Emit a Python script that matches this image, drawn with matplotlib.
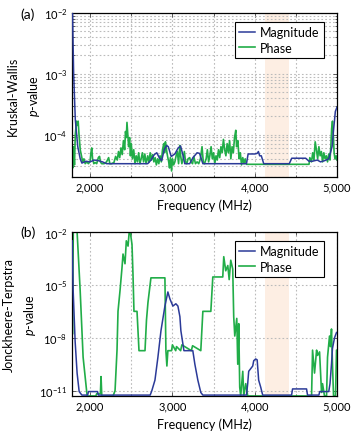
import numpy as np
import matplotlib
matplotlib.use("Agg")
import matplotlib.pyplot as plt
from matplotlib.ticker import FixedLocator, FuncFormatter, LogLocator, NullLocator, NullFormatter

plt.rcParams['font.family'] = ['Lato', 'DejaVu Sans']
plt.rcParams['mathtext.fontset'] = 'custom'
plt.rcParams['mathtext.rm'] = 'Lato'
plt.rcParams['mathtext.it'] = 'Lato:italic'

# ---------------- data (frequency in MHz, log10 of p-value) ----------------
# Panel (a): Kruskal-Wallis
kw_mag_freq = [1785, 1800, 1820, 1850, 1880, 1900, 1950, 2000, 2050, 2100, 2150, 2200,
               2700, 2740, 2780, 2810, 2840, 2870, 2900, 2930, 2950, 2985, 3030, 3070,
               3100, 3130, 3150, 3210, 3250, 3300, 3330, 3370, 3900, 3920, 4000, 4030,
               4045, 4060, 4080, 4110, 4420, 4450, 4620, 4660, 4700, 4760, 4800, 4850,
               4900, 4940, 4960, 4980, 5000]
kw_mag_log = [-1.9, -3.0, -3.75, -4.2, -4.4, -4.47, -4.44, -4.45, -4.42, -4.43, -4.45, -4.48,
              -4.48, -4.42, -4.33, -4.30, -4.38, -4.43, -4.25, -4.18, -4.20, -4.36, -4.32, -4.22,
              -4.19, -4.35, -4.48, -4.48, -4.38, -4.30, -4.31, -4.48, -4.48, -4.32, -4.32, -4.31,
              -4.28, -4.35, -4.35, -4.48, -4.48, -4.39, -4.39, -4.44, -4.44, -4.42, -4.45, -4.43,
              -4.40, -4.20, -3.90, -3.62, -3.55]

kw_ph_freq = [1780, 1790, 1800, 1810, 1820, 1835, 1845, 1855, 1865, 1880, 1895, 1910, 1925,
              1940, 1960, 1980, 2000, 2010, 2020, 2030, 2045, 2060, 2080, 2100, 2115, 2125,
              2140, 2170, 2200, 2225, 2240, 2260, 2290, 2310, 2330, 2345, 2360, 2375, 2390,
              2405, 2420, 2430, 2440, 2448, 2458, 2468, 2480, 2490, 2500, 2515, 2530, 2545,
              2560, 2575, 2590, 2605, 2620, 2635, 2650, 2665, 2680, 2700, 2715, 2730, 2745,
              2760, 2775, 2790, 2805, 2820, 2835, 2850, 2865, 2880, 2895, 2905, 2915, 2925,
              2940, 2955, 2965, 2975, 2990, 3000, 3015, 3030, 3045, 3060, 3075, 3090, 3100,
              3115, 3130, 3145, 3160, 3175, 3190, 3210, 3225, 3245, 3260, 3280, 3300, 3320,
              3340, 3360, 3375, 3390, 3410, 3425, 3440, 3455, 3470, 3485, 3500, 3515, 3530,
              3545, 3560, 3575, 3590, 3605, 3620, 3635, 3650, 3665, 3680, 3695, 3710, 3725,
              3740, 3755, 3770, 3780, 3795, 3810, 3825, 3840, 3855, 3870, 3885, 3900, 4660,
              4670, 4690, 4705, 4720, 4735, 4750, 4765, 4780, 4795, 4810, 4825, 4840, 4855,
              4870, 4885, 4900, 4915, 4925, 4935, 4945, 4955, 4965, 4975, 4990, 5000]
kw_ph_log = [-4.3, -4.55, -4.2, -4.5, -4.0, -3.78, -3.85, -3.78, -4.0, -4.25, -4.35, -4.45, -4.4,
             -4.48, -4.45, -4.48, -4.44, -4.30, -4.22, -4.40, -4.48, -4.46, -4.48, -4.38, -4.36, -4.45,
             -4.48, -4.48, -4.45, -4.38, -4.48, -4.48, -4.46, -4.36, -4.42, -4.28, -4.38, -4.22, -4.33,
             -4.10, -4.25, -3.95, -4.05, -3.80, -4.00, -4.20, -4.05, -4.35, -4.15, -4.40, -4.25, -4.48,
             -4.35, -4.45, -4.30, -4.48, -4.40, -4.30, -4.45, -4.32, -4.48, -4.35, -4.46, -4.30, -4.42,
             -4.33, -4.45, -4.38, -4.50, -4.40, -4.48, -4.35, -4.45, -4.25, -4.15, -4.30, -4.12, -4.22,
             -4.35, -4.45, -4.55, -4.38, -4.60, -4.40, -4.50, -4.45, -4.35, -4.28, -4.48, -4.18, -4.35,
             -4.48, -4.40, -4.28, -4.45, -4.48, -4.40, -4.38, -4.45, -4.48, -4.36, -4.48, -4.45, -4.48,
             -4.40, -4.20, -4.45, -4.48, -4.40, -4.25, -4.45, -4.35, -4.20, -4.40, -4.30, -4.48, -4.35,
             -4.42, -4.25, -4.38, -4.20, -4.30, -4.08, -4.25, -4.35, -4.15, -4.30, -4.10, -4.40, -4.20,
             -4.30, -4.05, -3.93, -4.20, -4.10, -4.40, -4.30, -4.50, -4.38, -4.48, -4.40, -4.49, -4.49,
             -4.38, -4.45, -4.30, -4.42, -4.12, -4.25, -4.40, -4.20, -4.35, -4.28, -4.45, -4.30, -4.40,
             -4.35, -4.45, -4.32, -4.42, -4.20, -3.90, -3.78, -4.00, -4.30, -4.40, -4.35, -4.42]

# Panel (b): Jonckheere-Terpstra
jt_mag_freq = [1782, 1794, 1818, 1842, 1867, 1900, 1970, 1980, 2090, 2100, 2730, 2750, 2788,
               2824, 2861, 2909, 2945, 2970, 3006, 3042, 3067, 3091, 3103, 3140, 3248, 3273,
               3309, 3345, 3370, 3900, 3915, 3927, 3976, 3988, 4012, 4030, 4048, 4073, 4097,
               4448, 4460, 4630, 4642, 4780, 4790, 4900, 4915, 4933, 4945, 4970, 4994]
jt_mag_log = [-2.5, -5.3, -8.2, -10.0, -11.05, -11.25, -11.25, -11.05, -11.05, -11.25, -11.25, -11.0, -10.4,
              -9.1, -7.6, -6.2, -5.4, -5.8, -6.2, -6.07, -6.2, -6.8, -7.6, -8.73, -8.73, -9.5,
              -10.4, -11.1, -11.25, -11.25, -10.6, -9.9, -9.6, -9.3, -9.2, -9.25, -10.4, -10.8, -11.25,
              -11.25, -10.9, -10.9, -11.25, -11.25, -11.05, -11.05, -10.6, -9.5, -8.6, -8.0, -7.7]

jt_ph_freq = [1780, 1785, 1796, 1842, 1879, 1915, 1964, 2070, 2080, 2125, 2133, 2142, 2279,
              2303, 2327, 2339, 2364, 2388, 2400, 2424, 2440, 2461, 2475, 2485, 2497, 2509,
              2521, 2533, 2570, 2594, 2667, 2685, 2703, 2739, 2909, 2921, 2933, 2945, 2990,
              3000, 3040, 3050, 3100, 3115, 3230, 3245, 3345, 3370, 3467, 3491, 3612, 3624,
              3648, 3673, 3690, 3709, 3733, 3745, 3758, 3782, 3794, 3806, 3818, 3830, 3855,
              3867, 3891, 3915, 4691, 4703, 4727, 4752, 4764, 4788, 4812, 4824, 4848, 4873,
              4885, 4909, 4921, 4933, 4945, 4958, 4982, 4994, 5000]
jt_ph_log = [-1.8, -7.8, -1.8, -2.0, -5.3, -9.1, -11.3, -11.3, -11.17, -11.17, -10.2, -11.3, -11.3,
             -11.0, -8.7, -6.5, -5.3, -4.0, -3.25, -3.8, -2.5, -2.8, -2.0, -1.9, -2.3, -2.7,
             -4.4, -6.5, -6.5, -8.73, -8.73, -7.0, -6.0, -4.6, -4.6, -8.73, -9.6, -8.73, -8.73,
             -8.4, -8.73, -8.5, -8.73, -8.4, -8.73, -8.45, -8.73, -6.5, -6.5, -4.55, -4.55, -3.4,
             -4.2, -3.9, -4.7, -3.6, -4.1, -6.8, -7.9, -6.9, -9.5, -7.2, -10.8, -11.3, -9.9,
             -11.3, -10.6, -11.3, -11.3, -8.7, -10.0, -8.7, -9.0, -8.8, -11.1, -10.6, -11.3, -11.3,
             -9.1, -7.9, -8.5, -7.5, -9.5, -11.3, -11.3, -8.7, -8.7]

band = (4120, 4420)
labels = ["Magnitude", "Phase"]
colors = ["#2b3a98", "#21ad48"]
x_major = [2000, 3000, 4000, 5000]
x_minor = [2500, 3500, 4500]

# ---------------- figure ----------------
fig = plt.figure(figsize=(3.59, 4.35), dpi=100)
W, H = 359, 435
def rect(l, t, r, b):
    return [l / W, 1 - b / H, (r - l) / W, (b - t) / H]

ax_a = fig.add_axes(rect(72, 14, 337, 178))
ax_b = fig.add_axes(rect(72, 233, 337, 397))

def style(ax):
    ax.set_yscale('log')
    ax.set_xlim(1780, 5000)
    ax.axvspan(*band, color='#fdeee3', lw=0, zorder=0)
    ax.xaxis.set_major_locator(FixedLocator(x_major))
    ax.xaxis.set_minor_locator(FixedLocator(x_minor))
    ax.xaxis.set_major_formatter(FuncFormatter(lambda v, p: f"{int(v):,}"))
    ax.tick_params(which='both', direction='in', top=True, right=True, labelsize=8,
                   width=0.6, color='#444444')
    ax.tick_params(which='major', length=3)
    ax.tick_params(which='minor', length=1.8)
    ax.grid(True, which='both', axis='x', ls=(0, (1.5, 2)), color='#bbbbbb', lw=0.8)
    for s in ax.spines.values():
        s.set_linewidth(0.9)
    ax.set_xlabel("Frequency (MHz)", fontsize=9, labelpad=4)

style(ax_a)
ax_a.set_ylim(2e-5, 1e-2)
ax_a.yaxis.set_major_locator(LogLocator(base=10, numticks=10))
ax_a.yaxis.set_minor_locator(LogLocator(base=10, subs=np.arange(2, 10), numticks=10))
ax_a.yaxis.set_minor_formatter(NullFormatter())
ax_a.grid(True, which='both', axis='y', ls=(0, (1.5, 2)), color='#bbbbbb', lw=0.8)
ax_a.plot(kw_mag_freq, np.power(10.0, kw_mag_log), color=colors[0], lw=1.1, label=labels[0], zorder=3)
ax_a.plot(kw_ph_freq, np.power(10.0, kw_ph_log), color=colors[1], lw=1.2, label=labels[1], zorder=2)
ax_a.set_ylabel("Kruskal-Wallis\n$p$-value", fontsize=9, labelpad=1, linespacing=1.6)

style(ax_b)
ax_b.set_ylim(5e-12, 1e-2)
ax_b.yaxis.set_major_locator(FixedLocator([1e-11, 1e-8, 1e-5, 1e-2]))
ax_b.yaxis.set_minor_locator(NullLocator())
ax_b.yaxis.set_major_formatter(FuncFormatter(lambda v, p: f"$10^{{{int(round(np.log10(v)))}}}$"))
ax_b.grid(True, which='major', axis='y', ls=(0, (1.5, 2)), color='#bbbbbb', lw=0.8)
ax_b.plot(jt_mag_freq, np.power(10.0, jt_mag_log), color=colors[0], lw=1.1, label=labels[0], zorder=3)
ax_b.plot(jt_ph_freq, np.power(10.0, jt_ph_log), color=colors[1], lw=1.2, label=labels[1], zorder=2)
ax_b.set_ylabel("Jonckheere-Terpstra\n$p$-value", fontsize=9, labelpad=1, linespacing=1.6)

for ax in (ax_a, ax_b):
    leg = ax.legend(loc='upper right', fontsize=9, frameon=True, fancybox=False,
                    edgecolor='black', framealpha=1, handlelength=1.3, handletextpad=0.4,
                    borderpad=0.35, labelspacing=0.3, bbox_to_anchor=(0.975, 0.985))
    leg.get_frame().set_linewidth(0.8)

fig.text(20 / W, 1 - 15 / H, "(a)", fontsize=10, va='center', ha='left')
fig.text(20 / W, 1 - 233 / H, "(b)", fontsize=10, va='center', ha='left')

fig.savefig("out.png", dpi=100)
